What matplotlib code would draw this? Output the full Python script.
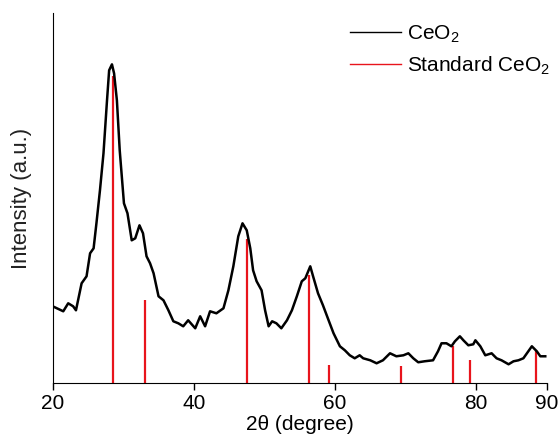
import matplotlib
matplotlib.use("Agg")
import matplotlib.pyplot as plt

plt.rcParams['font.family'] = ['Liberation Sans', 'DejaVu Sans']
plt.rcParams['mathtext.fontset'] = 'custom'
plt.rcParams['mathtext.rm'] = 'Liberation Sans'
plt.rcParams['mathtext.it'] = 'Liberation Sans:italic'

# measured XRD pattern (2theta, intensity in a.u.)
two_theta = [20.0, 21.5, 22.2, 22.9, 23.3, 24.1, 24.8, 25.3, 25.8, 26.2,
             26.7, 27.2, 27.7, 28.0, 28.4, 28.7, 29.1, 29.5, 30.1, 30.6,
             31.2, 31.7, 32.3, 32.8, 33.3, 33.8, 34.3, 35.0, 35.7, 36.4,
             37.1, 37.8, 38.5, 39.2, 40.2, 40.9, 41.6, 42.3, 43.2, 44.2,
             44.9, 45.6, 46.3, 46.9, 47.5, 48.0, 48.4, 48.9, 49.6, 50.1,
             50.6, 51.1, 51.7, 52.4, 53.2, 53.9, 54.6, 55.3, 55.8, 56.5,
             56.9, 57.6, 58.3, 59.1, 59.8, 60.7, 61.4, 62.1, 62.8, 63.5,
             64.0, 65.0, 65.9, 66.8, 67.8, 68.7, 69.7, 70.4, 71.1, 71.8,
             72.7, 73.9, 74.6, 75.1, 75.8, 76.5, 77.0, 77.7, 78.2, 78.9,
             79.6, 79.9, 80.6, 81.3, 82.2, 82.9, 83.6, 84.6, 85.3, 86.0,
             86.7, 87.4, 87.9, 88.6, 89.1, 89.8]
intensity = [77, 72, 80, 77, 73, 100, 107, 130, 135, 160,
             193, 230, 283, 313, 319, 310, 283, 233, 180, 170,
             143, 145, 158, 150, 127, 120, 110, 87, 83, 73,
             62, 60, 57, 63, 55, 67, 57, 72, 70, 75,
             93, 117, 147, 160, 153, 135, 113, 102, 93, 73,
             57, 62, 60, 55, 63, 73, 87, 102, 105, 117,
             107, 90, 78, 63, 50, 37, 33, 28, 25, 28,
             25, 23, 20, 23, 30, 27, 28, 30, 25, 21,
             22, 23, 32, 40, 40, 37, 42, 47, 43, 38,
             39, 43, 37, 28, 30, 25, 23, 19, 22, 23,
             25, 32, 37, 32, 27, 27]

# standard CeO2 reference lines
std_pos = [28.55, 33.08, 47.48, 56.34, 59.09, 69.42, 76.70, 79.07, 88.43]
std_int = [307, 83, 144, 108, 18, 17, 37, 23, 32]

fig = plt.figure(figsize=(5.58, 4.45), dpi=100)
ax = fig.add_axes([0.0944, 0.1387, 0.8853, 0.8313])

ax.plot(two_theta, intensity, color='black', lw=1.8, label='CeO$_2$', zorder=3)
ax.vlines(std_pos, 0, std_int, color='#e8141c', lw=1.6, zorder=2)
ax.plot([], [], color='#e8141c', lw=1.0, label='Standard CeO$_2$')

ax.set_xlim(20, 90)
ax.set_ylim(0, 370)
ax.set_xticks([20, 40, 60, 80, 90])
ax.set_yticks([])
ax.tick_params(axis='x', direction='out', length=5, width=1, labelsize=15, pad=3)
for s in ['top', 'right']:
    ax.spines[s].set_visible(False)

ax.set_xlabel('2θ (degree)', fontsize=15, labelpad=1)
ax.set_ylabel('Intensity (a.u.)', fontsize=16, labelpad=15, color='#222222')

leg = ax.legend(loc='upper left', frameon=False, fontsize=15, handlelength=2.45,
                labelspacing=0.45, handletextpad=0.3, borderpad=0, borderaxespad=0,
                bbox_to_anchor=(0.627, 0.947), bbox_transform=fig.transFigure)
for h in leg.get_lines():
    h.set_linewidth(1.0)

fig.savefig('out.png', dpi=100)
